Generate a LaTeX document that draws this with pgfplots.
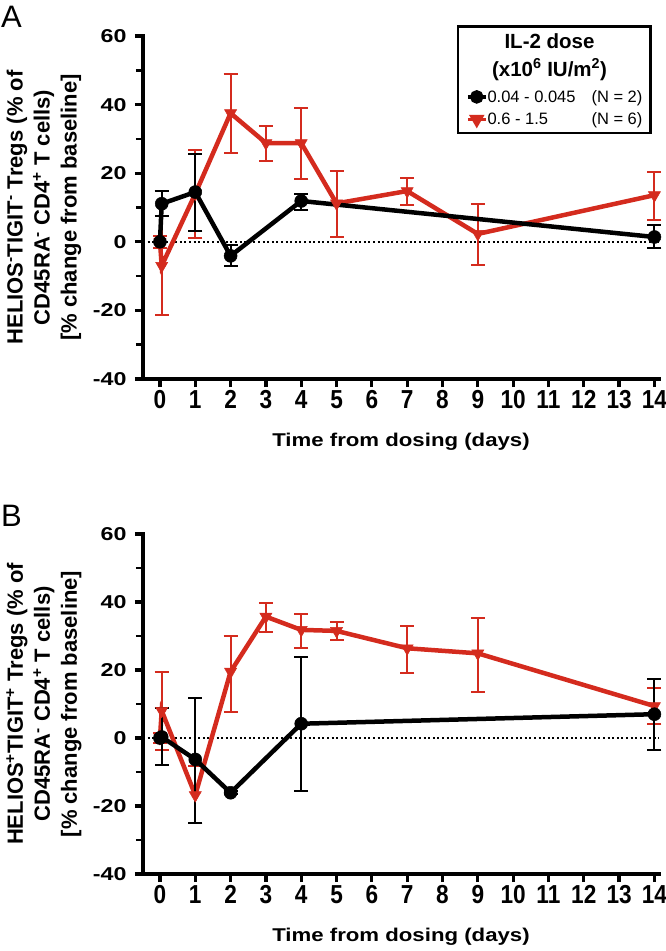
\documentclass[border=0pt]{standalone}
\usepackage{fontspec}
\setmainfont{Liberation Sans}
\usepackage{graphicx}
\usepackage{pgfplots}
\pgfplotsset{compat=1.18}
\usepackage{pgfplotstable}
\definecolor{myred}{RGB}{212,43,30}

% Panel A
\pgfplotstableread{
x y ep em
0 0 0 0
0.05 11.1 3.7 3.7
1 14.5 11.1 11.3
2 -4.1 3.1 3.0
4 11.9 2.1 2.7
14 1.4 3.5 3.2
}\lowA
\pgfplotstableread{
x y ep em
0 0 1.7 1.7
0.05 -7.0 14.4 14.4
1 14.0 12.7 13.0
2 37.5 11.4 11.6
3 28.8 5.1 5.1
4 28.8 10.3 10.6
5 11.2 9.4 9.8
7 14.8 3.8 4.1
9 2.3 8.7 9.1
14 13.6 6.8 7.3
}\highA
% Panel B
\pgfplotstableread{
x y ep em
0 0 0 0
0.05 0.3 8.4 8.2
1 -6.3 18.2 18.6
2 -16.1 0.5 0.5
4 4.2 19.6 19.8
14 7.0 10.3 10.6
}\lowB
\pgfplotstableread{
x y ep em
0 0 1.6 1.6
0.05 8.0 11.5 11.5
1 -16.8 8.6 8.3
2 19.5 10.6 11.8
3 35.7 3.9 4.6
4 31.8 4.7 5.4
5 31.5 2.5 2.7
7 26.4 6.6 7.4
9 24.9 10.3 11.5
14 9.4 5.2 5.2
}\highB

\pgfplotsset{
  panel/.style={
    scale only axis, width=516pt, height=343pt,
    xmin=-0.48, xmax=14.13, ymin=-40, ymax=60,
    axis lines=left, axis line style={-, line width=4pt, line cap=rect},
    xtick={0,...,14}, ytick={-40,-20,...,60}, minor y tick num=1,
    tick align=outside, major tick length=8pt, minor tick length=7pt,
    every tick/.style={line width=3.2pt, black},
    every minor tick/.style={line width=2.6pt, black},
    /pgf/number format/assume math mode=true,
    yticklabel style={font=\bfseries\fontsize{18.6}{18.6}\selectfont, xshift=-5pt},
    yticklabel={\scalebox{1.25}[1]{\pgfmathprintnumber{\tick}}},
    xticklabel style={font=\bfseries\fontsize{26}{26}\selectfont},
    xticklabel={\scalebox{0.87}[1]{\pgfmathprintnumber{\tick}}},
    xlabel={\scalebox{1.2}[1]{Time from dosing (days)}},
    xlabel style={font=\bfseries\fontsize{18.5}{18.5}\selectfont, at={(axis description cs:0.5,-0.184)}, anchor=center},
    ylabel style={align=center, font=\bfseries\fontsize{22}{27}\selectfont, at={(axis description cs:-0.192,0.5)}, anchor=center},
    clip=false,
  },
  errs/.style={draw=none, mark=none, forget plot,
    error bars/.cd, y dir=both, y explicit,
    error bar style={line width=2pt, #1},
    error mark options={rotate=90, line width=2pt, mark size=7pt, #1}},
  lowline/.style={black, line width=4.5pt, mark=*, mark size=6.5pt, mark options={solid, fill=black, line width=0.5pt}},
  highline/.style={myred, line width=4.5pt, mark=triangle*, mark size=7pt, mark options={solid, rotate=180, fill=myred, line width=0.5pt}},
}

\begin{document}
\begin{tikzpicture}
\useasboundingbox (0pt,0pt) rectangle (666pt,-951pt);
\node[anchor=north west, inner sep=0pt, font=\fontsize{31}{31}\selectfont] at (1pt,-6pt) {A};
\node[anchor=north west, inner sep=0pt, font=\fontsize{31}{31}\selectfont] at (1pt,-505pt) {B};

\begin{axis}[panel, at={(143pt,-379pt)}, anchor=south west,
  ylabel={HELIOS\textsuperscript{-}TIGIT\textsuperscript{-} Tregs (\% of\\CD45RA\textsuperscript{-} CD4\textsuperscript{+} T cells)\\{}[\% change from baseline]},
  legend style={at={(axis description cs:0.986,1.032)}, anchor=north east,
    draw=black, line width=2.5pt, inner xsep=8pt, inner ysep=7pt,
    font=\fontsize{16.5}{16.5}\selectfont, row sep=9pt,
    nodes={inner sep=0pt}},
  legend cell align=left,
  legend image code/.code={\draw[mark repeat=2, mark phase=2, #1] plot coordinates {(0pt,0pt) (9pt,0pt) (18pt,0pt)};},
]
\addplot[dash pattern=on 2pt off 2.6pt, line width=1.8pt, forget plot] coordinates {(-0.48,0) (14.13,0)};
\addplot[errs=myred] table[x=x, y=y, y error plus=ep, y error minus=em] {\highA};
\addplot[highline, forget plot] table[x=x, y=y] {\highA};
\addplot[errs=black] table[x=x, y=y, y error plus=ep, y error minus=em, restrict x to domain=0.01:20] {\lowA};
\addplot[lowline, forget plot] table[x=x, y=y] {\lowA};
\addlegendimage{empty legend}
\addlegendentry{\hspace*{-31pt}\makebox[186pt][c]{\bfseries\fontsize{20.5}{20.5}\selectfont IL-2 dose}}
\addlegendimage{empty legend}
\addlegendentry{\hspace*{-31pt}\raisebox{3.5pt}{\makebox[186pt][c]{\bfseries\fontsize{20.5}{20.5}\selectfont (x10\textsuperscript{6} IU/m\textsuperscript{2})}}}
\addlegendimage{black, line width=3.5pt, mark=*, mark size=5pt, mark options={solid, fill=black}}
\addlegendentry{\makebox[104pt][l]{0.04 - 0.045}(N = 2)}
\addlegendimage{myred, line width=3.5pt, mark=triangle*, mark size=5.5pt, mark options={solid, rotate=180, fill=myred}}
\addlegendentry{\makebox[104pt][l]{0.6 - 1.5}(N = 6)}
\end{axis}

\begin{axis}[panel, at={(143pt,-874pt)}, anchor=south west, height=340pt,
  ylabel={HELIOS\textsuperscript{+}TIGIT\textsuperscript{+} Tregs (\% of\\CD45RA\textsuperscript{-} CD4\textsuperscript{+} T cells)\\{}[\% change from baseline]},
]
\addplot[dash pattern=on 2pt off 2.6pt, line width=1.8pt, forget plot] coordinates {(-0.48,0) (14.13,0)};
\addplot[errs=myred] table[x=x, y=y, y error plus=ep, y error minus=em] {\highB};
\addplot[highline, forget plot] table[x=x, y=y] {\highB};
\addplot[errs=black] table[x=x, y=y, y error plus=ep, y error minus=em, restrict x to domain=0.01:20] {\lowB};
\addplot[lowline, forget plot] table[x=x, y=y] {\lowB};
\end{axis}
\end{tikzpicture}
\end{document}
